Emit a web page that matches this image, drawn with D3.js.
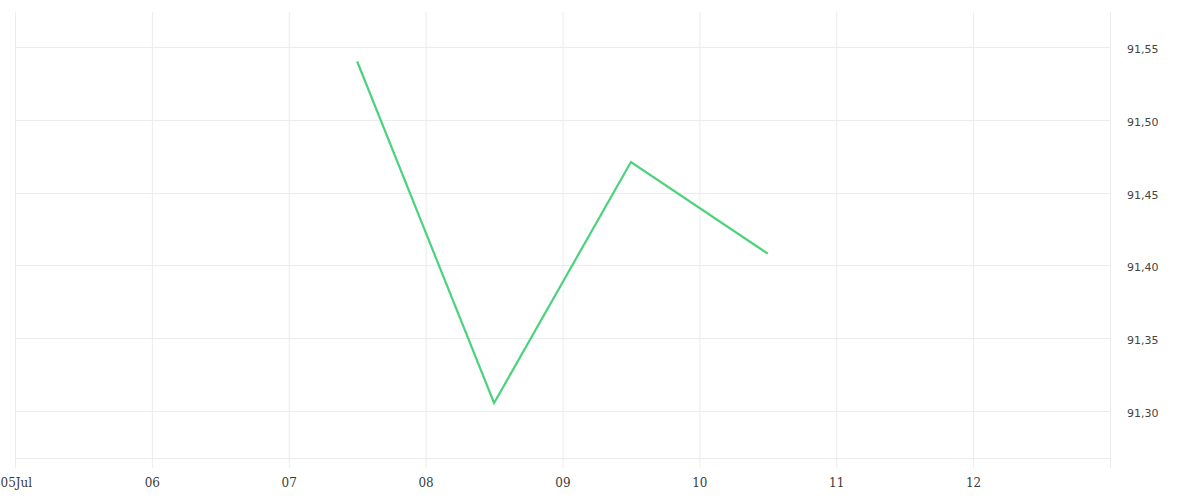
<!DOCTYPE html>
<html>
<head>
<meta charset="utf-8">
<script src="https://cdn.jsdelivr.net/npm/d3@7"></script>
<style>
  body { margin: 0; background: #fff; }
  svg { display: block; }
</style>
</head>
<body>
<svg id="chart" width="1200" height="500"></svg>
<script>
// data
const dates = ['2024-07-07T12:00', '2024-07-08T12:00', '2024-07-09T12:00', '2024-07-10T12:00'];
const values = [91.540, 91.3055, 91.471, 91.408];
const yTicks = [91.30, 91.35, 91.40, 91.45, 91.50, 91.55];
const xTickDays = ['2024-07-05', '2024-07-06', '2024-07-07', '2024-07-08', '2024-07-09', '2024-07-10', '2024-07-11', '2024-07-12', '2024-07-13'];

const parse = d3.timeParse('%Y-%m-%dT%H:%M');
const parseDay = d3.timeParse('%Y-%m-%d');
const points = dates.map((d, i) => ({ date: parse(d), value: values[i] }));
const dayTicks = xTickDays.map(parseDay);

const svg = d3.select('#chart');
const margin = { top: 12, right: 90, bottom: 42, left: 15 };
const width = 1200;
const height = 500;

const x = d3.scaleTime()
  .domain([dayTicks[0], dayTicks[dayTicks.length - 1]])
  .range([margin.left, width - margin.right]);

const y = d3.scaleLinear()
  .domain([91.2677, 91.574])
  .range([height - margin.bottom, margin.top]);

const gridColor = '#ececec';

// vertical grid, runs a little below the plot like ticks
svg.append('g')
  .selectAll('line')
  .data(dayTicks)
  .join('line')
  .attr('x1', d => x(d) + 0.5)
  .attr('x2', d => x(d) + 0.5)
  .attr('y1', margin.top)
  .attr('y2', height - margin.bottom + 10)
  .attr('stroke', gridColor)
  .attr('stroke-width', 1);

// horizontal grid
svg.append('g')
  .selectAll('line')
  .data(yTicks.concat([y.domain()[0]]))
  .join('line')
  .attr('x1', margin.left)
  .attr('x2', width - margin.right)
  .attr('y1', d => Math.round(y(d)) + 0.5)
  .attr('y2', d => Math.round(y(d)) + 0.5)
  .attr('stroke', gridColor)
  .attr('stroke-width', 1);

// x axis labels
const fmtDay = d => d.getDate() === 5 ? d3.timeFormat('%d')(d) + 'Jul' : d3.timeFormat('%d')(d);
const xAxis = d3.axisBottom(x)
  .tickValues(dayTicks.slice(0, -1))
  .tickFormat(fmtDay)
  .tickSize(0)
  .tickPadding(0);

const gx = svg.append('g')
  .attr('transform', `translate(0,${height - margin.bottom + 29})`)
  .call(xAxis);
gx.select('.domain').remove();
gx.selectAll('text')
  .attr('font-family', '"DejaVu Serif", serif')
  .attr('font-size', 12)
  .attr('fill', '#3a3a3a')
  .attr('dy', 0)
  .attr('text-anchor', d => d.getDate() === 5 ? 'start' : 'middle')
  .attr('x', d => d.getDate() === 5 ? -x(d) : 0);

// y axis labels on the right
const fmtY = d => d3.format('.2f')(d).replace('.', ',');
const yAxis = d3.axisRight(y)
  .tickValues(yTicks)
  .tickFormat(fmtY)
  .tickSize(0)
  .tickPadding(0);

const gy = svg.append('g')
  .attr('transform', `translate(${width - margin.right + 17},0)`)
  .call(yAxis);
gy.select('.domain').remove();
gy.selectAll('text')
  .attr('font-family', '"DejaVu Sans", sans-serif')
  .attr('font-size', 11)
  .attr('fill', '#444')
  .attr('dy', '0.5em');

// the series
const line = d3.line()
  .x(d => x(d.date))
  .y(d => y(d.value));

svg.append('path')
  .datum(points)
  .attr('fill', 'none')
  .attr('stroke', '#4cd27c')
  .attr('stroke-width', 2.2)
  .attr('stroke-linejoin', 'miter')
  .attr('d', line);
</script>
</body>
</html>
